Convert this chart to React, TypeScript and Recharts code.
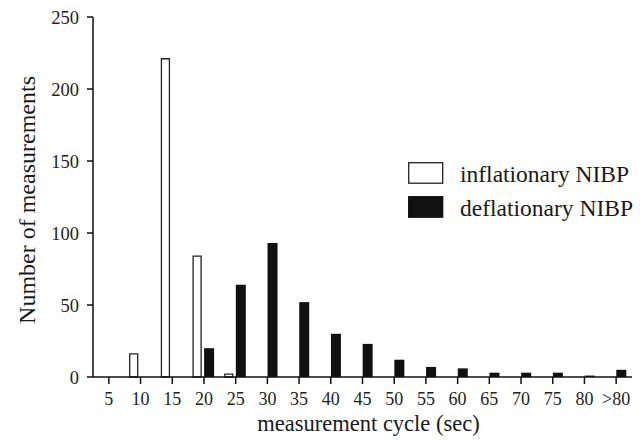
import React from 'react';
import { BarChart, Bar, XAxis, YAxis, Legend, Label } from 'recharts';

const categories = ['5', '10', '15', '20', '25', '30', '35', '40', '45', '50', '55', '60', '65', '70', '75', '80', '>80'];
const inflationary = [0, 16, 221, 84, 2, 0, 0, 0, 0, 0, 0, 0, 0, 0, 0, 0, 0];
const deflationary = [0, 0, 0, 20, 64, 93, 52, 30, 23, 12, 7, 6, 3, 3, 3, 1, 5];
const yTicks = [0, 50, 100, 150, 200, 250];

const data = categories.map((c, i) => ({
  cycle: c,
  inflationary: inflationary[i],
  deflationary: deflationary[i],
}));

const FONT = '"Liberation Serif", "Times New Roman", serif';

const renderLegend = (props: any) => {
  const payload = [...(props.payload || [])].sort((a: any, b: any) =>
    a.dataKey === 'inflationary' ? -1 : b.dataKey === 'inflationary' ? 1 : 0
  );
  return (
    <svg width={236} height={70} style={{ display: 'block', overflow: 'visible' }}>
      {payload.map((entry: any, i: number) => {
        const isInfl = entry.dataKey === 'inflationary';
        const y = i * 34;
        return (
          <g key={entry.value}>
            <rect
              x={0.7}
              y={y + 0.7}
              width={34}
              height={20.5}
              fill={isInfl ? '#ffffff' : '#111111'}
              stroke={isInfl ? '#222222' : '#111111'}
              strokeWidth={1.3}
            />
            <text x={52} y={y + 19.5} fontFamily={FONT} fontSize={23.5} fill="#1a1a1a">
              {entry.value}
            </text>
          </g>
        );
      })}
    </svg>
  );
};

export default function App() {
  return (
    <div style={{ position: 'absolute', left: 0, top: 0 }}>
      <BarChart
        width={644}
        height={440}
        data={data}
        margin={{ top: 17, right: 12, bottom: 0, left: 0 }}
        barGap={3}
        barCategoryGap={0}
      >
        <XAxis
          dataKey="cycle"
          height={63}
          tickSize={7}
          tickMargin={8}
          interval={0}
          axisLine={{ stroke: '#111', strokeWidth: 1.5 }}
          tickLine={{ stroke: '#111', strokeWidth: 1.5 }}
          tick={{ fontFamily: FONT, fontSize: 18, fill: '#222' }}
        >
          <Label
            value="measurement cycle (sec)"
            position="insideBottom"
            offset={9}
            dx={6}
            style={{ fontFamily: FONT, fontSize: 22.5, fill: '#1a1a1a' }}
          />
        </XAxis>
        <YAxis
          width={93}
          domain={[0, 250]}
          ticks={yTicks}
          interval={0}
          tickSize={6}
          tickMargin={8}
          axisLine={{ stroke: '#111', strokeWidth: 1.5 }}
          tickLine={{ stroke: '#111', strokeWidth: 1.5 }}
          tick={{ fontFamily: FONT, fontSize: 18.5, fill: '#222' }}
        >
          <Label
            content={(p: any) => {
              const vb = p.viewBox || { x: 0, y: 17, width: 93, height: 360 };
              const cx = vb.x + 35;
              const cy = vb.y + vb.height / 2 + 3;
              return (
                <text
                  x={cx}
                  y={cy}
                  transform={`rotate(-90, ${cx}, ${cy})`}
                  textAnchor="middle"
                  fontFamily={FONT}
                  fontSize={24}
                  fill="#1a1a1a"
                >
                  Number of measurements
                </text>
              );
            }}
          />
        </YAxis>
        <Legend
          content={renderLegend}
          layout="horizontal"
          verticalAlign="middle"
          align="center"
          wrapperStyle={{ position: 'absolute', left: 408, top: 162, width: 236, height: 70 }}
        />
        <Bar
          dataKey="inflationary"
          name="inflationary NIBP"
          barSize={8}
          fill="#ffffff"
          stroke="#222222"
          strokeWidth={1.3}
          isAnimationActive={false}
        />
        <Bar
          dataKey="deflationary"
          name="deflationary NIBP"
          barSize={10}
          fill="#111111"
          isAnimationActive={false}
        />
      </BarChart>
    </div>
  );
}
